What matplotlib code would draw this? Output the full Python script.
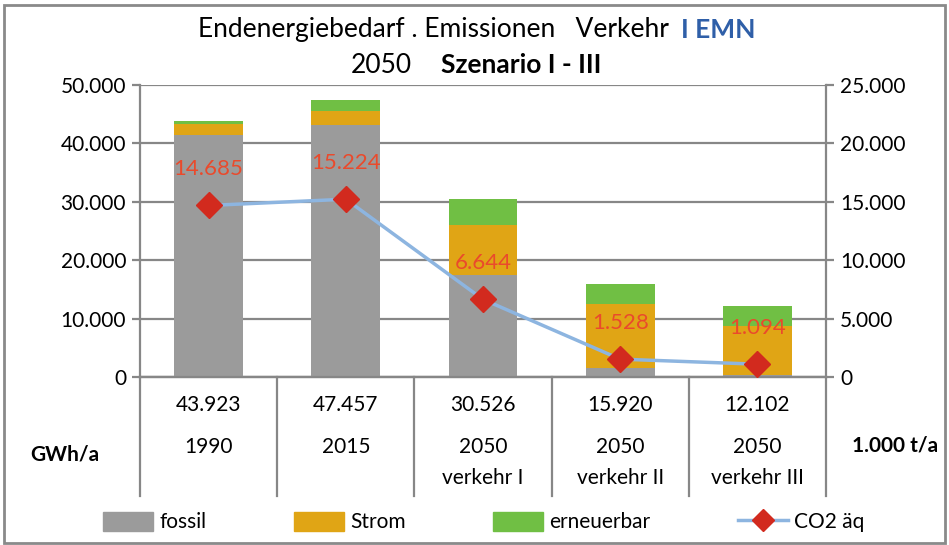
import numpy as np
import matplotlib
matplotlib.use("Agg")
import matplotlib.pyplot as plt
from matplotlib.patches import Patch, Rectangle
from matplotlib.lines import Line2D

plt.rcParams['font.family'] = ['Lato', 'DejaVu Sans']

### Data ###
cats = ['1990', '2015', '2050\nverkehr I', '2050\nverkehr II', '2050\nverkehr III']
fossil = [41500, 43100, 17500, 1500, 300]
strom = [1800, 2450, 8500, 11000, 8500]
erneuerbar = [623, 1907, 4526, 3420, 3302]
totals = ['43.923', '47.457', '30.526', '15.920', '12.102']
co2 = [14685, 15224, 6644, 1528, 1094]
co2_labels = ['14.685', '15.224', '6.644', '1.528', '1.094']

c_fossil = '#9B9B9B'
c_strom = '#E0A515'
c_ern = '#70BF44'
c_line = '#8DB5E0'
c_mark = '#D22A1E'
c_lab = '#EA4A2C'
c_grid = '#878787'

def fmt(v, pos=None):
    return '{:,.0f}'.format(v).replace(',', '.')

fig = plt.figure(figsize=(9.49, 5.45), dpi=100)
ax = fig.add_axes([0.1475, 0.3083, 0.7229, 0.5357])
ax2 = ax.twinx()

x = np.arange(len(cats))
w = 0.5
ax.bar(x, fossil, w, color=c_fossil, zorder=3)
ax.bar(x, strom, w, bottom=fossil, color=c_strom, zorder=3)
bot2 = np.array(fossil) + np.array(strom)
ax.bar(x, erneuerbar, w, bottom=bot2, color=c_ern, zorder=3)

ax.set_xlim(-0.5, len(cats) - 0.5)
ax.set_ylim(0, 50000)
ax.set_yticks(np.arange(0, 50001, 10000))
ax.yaxis.set_major_formatter(plt.FuncFormatter(fmt))
ax.grid(axis='y', color=c_grid, linewidth=1.6, zorder=0)
ax.set_axisbelow(True)
ax.set_xticks([])

ax2.set_ylim(0, 25000)
ax2.set_yticks(np.arange(0, 25001, 5000))
ax2.yaxis.set_major_formatter(plt.FuncFormatter(fmt))
ax2.plot(x, co2, color=c_line, linewidth=2.5, zorder=4)
ax2.plot(x, co2, linestyle='none', marker='D', markersize=13,
         color=c_mark, zorder=5)
for xi, v, lab in zip(x, co2, co2_labels):
    ax2.annotate(lab, (xi, v), xytext=(0, 26), textcoords='offset points',
                 ha='center', va='center', color=c_lab, fontsize=16, zorder=6)

for a in (ax, ax2):
    for s in a.spines.values():
        s.set_color(c_grid)
        s.set_linewidth(1.6)
    a.spines['top'].set_visible(False)
    a.tick_params(axis='y', length=6, width=1.6, color=c_grid,
                  labelsize=15, pad=4)
ax.spines['right'].set_visible(False)
ax2.spines['left'].set_visible(False)

# table below the axes
trans = ax.get_xaxis_transform()
for xb in np.arange(-0.5, len(cats), 1.0):
    ax.plot([xb, xb], [0, -0.408], transform=trans, color=c_grid,
            linewidth=1.6, clip_on=False)
for xi, t, c in zip(x, totals, cats):
    ax.text(xi, -0.096, t, transform=trans, ha='center', va='center', fontsize=15)
    lines = c.split('\n')
    ax.text(xi, -0.240, lines[0], transform=trans, ha='center', va='center', fontsize=15)
    if len(lines) > 1:
        ax.text(xi, -0.346, lines[1], transform=trans, ha='center', va='center', fontsize=15)
ax.text(-0.109, -0.267, 'GWh/a', transform=ax.transAxes, ha='center',
        va='center', fontsize=15, fontweight='bold')
ax.text(1.10, -0.233, '1.000 t/a', transform=ax.transAxes, ha='center',
        va='center', fontsize=15, fontweight='bold')

# title
fig.text(0.712, 0.945, 'Endenergiebedarf . Emissionen   Verkehr ', ha='right',
         va='center', fontsize=19)
fig.text(0.718, 0.945, 'I EMN', ha='left', va='center', fontsize=19,
         color='#2F5FA8', fontweight='bold')
fig.text(0.434, 0.88, '2050', ha='right', va='center', fontsize=19)
fig.text(0.465, 0.88, 'Szenario I - III', ha='left', va='center', fontsize=19,
         fontweight='bold')

# legend
handles = [Patch(color=c_fossil), Patch(color=c_strom), Patch(color=c_ern),
           Line2D([], [], color=c_line, linewidth=2.5, marker='D',
                  markersize=11, markerfacecolor=c_mark, markeredgecolor=c_mark)]
fig.legend(handles, ['fossil', 'Strom', 'erneuerbar', 'CO2 äq'], ncol=4,
           loc='center', bbox_to_anchor=(0.51, 0.042), frameon=False,
           fontsize=15, columnspacing=4.2, handlelength=2.4, handleheight=1.0,
           handletextpad=0.3)

# outer border
fig.patches.append(Rectangle((0.004, 0.004), 0.992, 0.986, transform=fig.transFigure,
                             fill=False, edgecolor='#8A8A8A', linewidth=2))

fig.savefig('out.png', dpi=100)
